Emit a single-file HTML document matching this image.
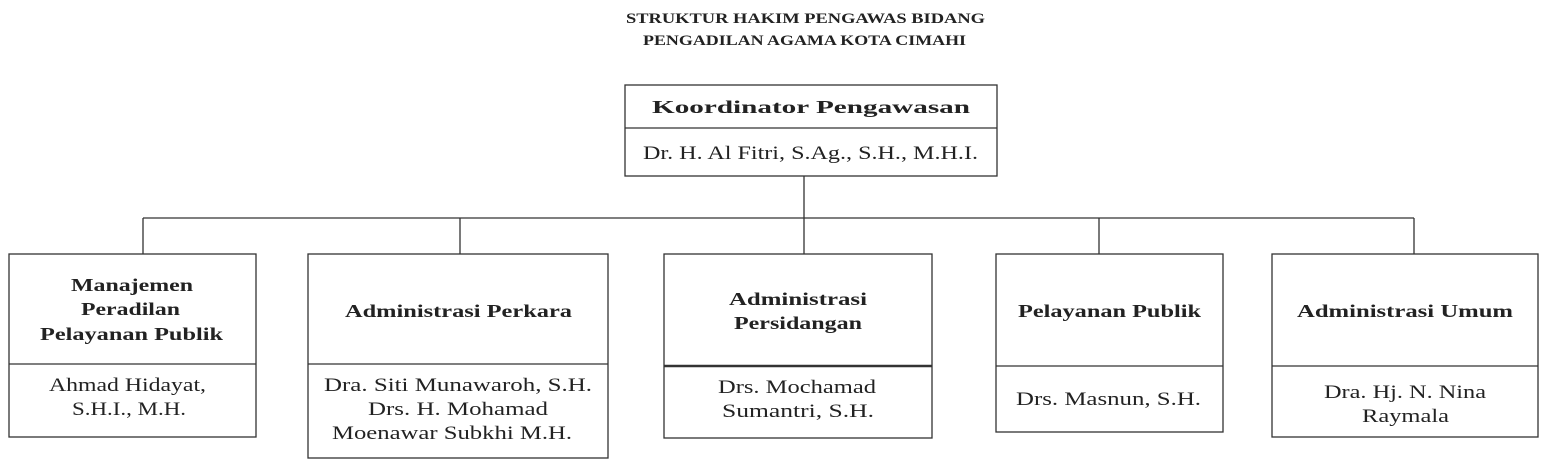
<!DOCTYPE html>
<html><head><meta charset="utf-8"><style>
html,body{margin:0;padding:0;background:#fff;width:1548px;height:469px;overflow:hidden}
svg text{font-family:"Liberation Serif",serif;fill:#222}
.b{font-weight:bold;font-size:18px}
.n{font-size:19px}
.t{font-weight:bold;font-size:15px}
</style></head><body>
<svg width="1548" height="469" viewBox="0 0 1548 469" xmlns="http://www.w3.org/2000/svg">
<g stroke="#333" stroke-width="1.3" fill="none">
<rect x="625" y="85" width="372" height="91"/>
<line x1="625" y1="128" x2="997" y2="128"/>
<line x1="804" y1="176" x2="804" y2="254"/>
<line x1="143" y1="218" x2="1414" y2="218"/>
<line x1="143" y1="218" x2="143" y2="254"/>
<line x1="460" y1="218" x2="460" y2="254"/>
<line x1="1099" y1="218" x2="1099" y2="254"/>
<line x1="1414" y1="218" x2="1414" y2="254"/>
<rect x="9" y="254" width="247" height="183"/>
<line x1="9" y1="364" x2="256" y2="364"/>
<rect x="308" y="254" width="300" height="204"/>
<line x1="308" y1="364" x2="608" y2="364"/>
<rect x="664" y="254" width="268" height="184"/>
<line x1="664" y1="366" x2="932" y2="366" stroke-width="2.5"/>
<rect x="996" y="254" width="227" height="178"/>
<line x1="996" y1="366" x2="1223" y2="366"/>
<rect x="1272" y="254" width="266" height="183"/>
<line x1="1272" y1="366" x2="1538" y2="366"/>
</g>
<g>
<text class="t" x="626" y="23" textLength="359" lengthAdjust="spacingAndGlyphs">STRUKTUR HAKIM PENGAWAS BIDANG</text>
<text class="t" x="643" y="45" textLength="323" lengthAdjust="spacingAndGlyphs">PENGADILAN AGAMA KOTA CIMAHI</text>
<text class="b" x="652" y="113" textLength="318" lengthAdjust="spacingAndGlyphs">Koordinator Pengawasan</text>
<text class="n" x="643" y="159" textLength="335" lengthAdjust="spacingAndGlyphs">Dr. H. Al Fitri, S.Ag., S.H., M.H.I.</text>
<text class="b" x="71" y="291" textLength="122" lengthAdjust="spacingAndGlyphs">Manajemen</text>
<text class="b" x="81" y="315" textLength="99" lengthAdjust="spacingAndGlyphs">Peradilan</text>
<text class="b" x="40" y="340" textLength="183" lengthAdjust="spacingAndGlyphs">Pelayanan Publik</text>
<text class="n" x="49" y="391" textLength="157" lengthAdjust="spacingAndGlyphs">Ahmad Hidayat,</text>
<text class="n" x="72" y="415" textLength="114" lengthAdjust="spacingAndGlyphs">S.H.I., M.H.</text>
<text class="b" x="345" y="317" textLength="227" lengthAdjust="spacingAndGlyphs">Administrasi Perkara</text>
<text class="n" x="324" y="391" textLength="268" lengthAdjust="spacingAndGlyphs">Dra. Siti Munawaroh, S.H.</text>
<text class="n" x="368" y="415" textLength="180" lengthAdjust="spacingAndGlyphs">Drs. H. Mohamad</text>
<text class="n" x="332" y="439" textLength="240" lengthAdjust="spacingAndGlyphs">Moenawar Subkhi M.H.</text>
<text class="b" x="729" y="305" textLength="138" lengthAdjust="spacingAndGlyphs">Administrasi</text>
<text class="b" x="734" y="329" textLength="128" lengthAdjust="spacingAndGlyphs">Persidangan</text>
<text class="n" x="718" y="393" textLength="158" lengthAdjust="spacingAndGlyphs">Drs. Mochamad</text>
<text class="n" x="722" y="417" textLength="152" lengthAdjust="spacingAndGlyphs">Sumantri, S.H.</text>
<text class="b" x="1018" y="317" textLength="183" lengthAdjust="spacingAndGlyphs">Pelayanan Publik</text>
<text class="n" x="1016" y="405" textLength="185" lengthAdjust="spacingAndGlyphs">Drs. Masnun, S.H.</text>
<text class="b" x="1297" y="317" textLength="216" lengthAdjust="spacingAndGlyphs">Administrasi Umum</text>
<text class="n" x="1324" y="398" textLength="162" lengthAdjust="spacingAndGlyphs">Dra. Hj. N. Nina</text>
<text class="n" x="1362" y="422" textLength="87" lengthAdjust="spacingAndGlyphs">Raymala</text>
</g>
</svg>
</body></html>
